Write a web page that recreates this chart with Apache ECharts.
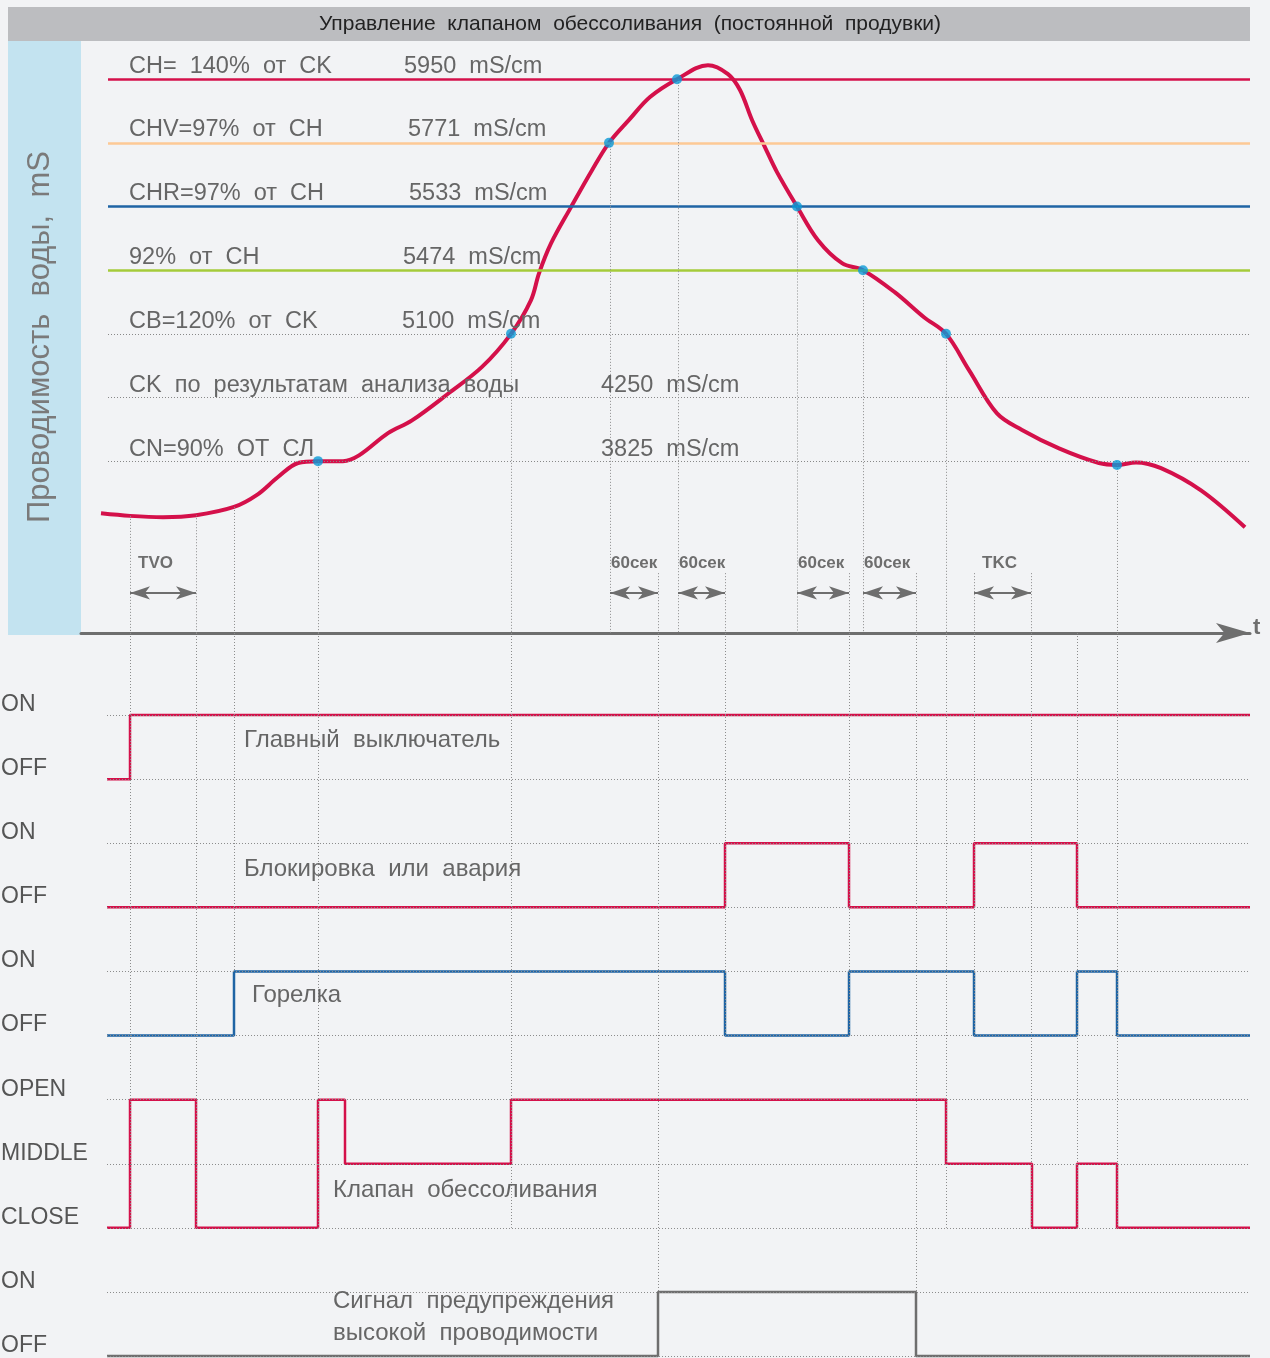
<!DOCTYPE html>
<html>
<head>
<meta charset="utf-8">
<title>Управление клапаном обессоливания</title>
<script src="https://cdn.jsdelivr.net/npm/echarts@6/dist/echarts.min.js"></script>
<style>
html, body { margin: 0; padding: 0; background: #f2f3f5; }
#main { width: 1270px; height: 1358px; }
</style>
</head>
<body>
<div id="main"></div>
<script>
// ---- data ----
var titleText = 'Управление  клапаном  обессоливания  (постоянной  продувки)';
var yName = 'Проводимость  воды,  mS';

// thresholds of the conductivity chart, level 7 = CH ... 1 = CN
var thresholdNames = ['CH=  140%  от  CK', 'CHV=97%  от  CH', 'CHR=97%  от  CH', '92%  от  CH',
  'CB=120%  от  CK', 'CK  по  результатам  анализа  воды', 'CN=90%  ОТ  СЛ'];
var thresholdValues = [5950, 5771, 5533, 5474, 5100, 4250, 3825];
var thresholdLevels = [7, 6, 5, 4, 3, 2, 1];

// conductivity curve, [t, level]
var curve = [
  [20, 0.18], [49, 0.14], [82, 0.12], [115, 0.15], [153, 0.28], [176, 0.47], [197, 0.75],
  [217, 0.97], [237, 1.0], [262, 1.0], [278, 1.09], [307, 1.44], [331, 1.64], [368, 2.07],
  [401, 2.48], [430, 3.0], [450, 3.53], [458, 3.95], [470, 4.42], [490, 4.99], [511, 5.57],
  [528, 6.0], [548, 6.36], [569, 6.72], [596, 7.0], [627, 7.22], [647, 7.08], [659, 6.83],
  [671, 6.36], [684, 5.93], [696, 5.54], [716, 5.0], [737, 4.47], [761, 4.11], [782, 4.0],
  [814, 3.65], [843, 3.26], [865, 3.0], [888, 2.43], [916, 1.75], [941, 1.49], [978, 1.2],
  [1018, 0.97], [1036, 0.94], [1055, 0.98], [1080, 0.89], [1120, 0.54], [1164, -0.04]
];
// switching points on the curve
var switchPoints = [[237, 1], [430, 3], [528, 6], [596, 7], [716, 5], [782, 4], [865, 3], [1036, 0.94]];

// timers
var timerNames = ['TVO', '60сек', '60сек', '60сек', '60сек', 'TKC'];
var timerFrom = [49, 529, 597, 716, 782, 893];
var timerTo = [115, 577, 644, 768, 835, 950];

// vertical guides: t, start level in the top chart (null = none), end row in the signal panel (null = stops at t axis)
var guideX = [49, 115, 153, 237, 430, 529, 577, 597, 644, 716, 768, 782, 835, 865, 893, 950, 996, 1036];
var guideTop = [0.14, 0.15, 0.28, 1, 3, 6, -0.76, 7, -0.76, 5, -0.76, 4, -0.76, 3, -0.76, -0.76, null, 0.94];
var guideEnd = [8, 8, 4, 8, 8, null, 9, null, 5, null, 5, null, 9, 8, 5, 8, 8, 8];

// signal diagrams, [t, state]
var signalNames = ['Главный  выключатель', 'Блокировка  или  авария', 'Горелка', 'Клапан  обессоливания',
  'Сигнал  предупреждения\nвысокой  проводимости'];
var rowLabels = ['ON', 'OFF', 'ON', 'OFF', 'ON', 'OFF', 'OPEN', 'MIDDLE', 'CLOSE', 'ON', 'OFF'];
var mainSwitch = [[26, 0], [49, 1], [1169, 1]];
var blocking = [[26, 0], [644, 1], [768, 0], [893, 1], [996, 0], [1169, 0]];
var burner = [[26, 0], [153, 1], [644, 0], [768, 1], [893, 0], [996, 1], [1036, 0], [1169, 0]];
var valve = [[26, 0], [49, 2], [115, 0], [237, 2], [264, 1], [430, 2], [865, 1], [951, 0], [996, 1], [1036, 0], [1169, 0]];
var warning = [[26, 0], [577, 1], [835, 0], [1169, 0]];

// ---- layout / style ----
var FONT = 'Liberation Sans';
var RED = '#d4104a', BLUE = '#1f64a4', GRAY = '#6e6e6e', TXT = '#666';
var thresholdStyles = [
  { color: RED, width: 2.5, type: 'solid' },
  { color: '#fdc995', width: 2.5, type: 'solid' },
  { color: BLUE, width: 2.5, type: 'solid' },
  { color: '#a5cb3a', width: 2.5, type: 'solid' },
  { color: '#888', width: 1, type: [1, 2] },
  { color: '#888', width: 1, type: [1, 2] },
  { color: '#888', width: 1, type: [1, 2] }
];
var labelLift = [-13, -13, -13, -13, -12, -12, -12];
var valueColumnX = [323, 327, 328, 322, 321, 520, 520];
var signalSeries = [mainSwitch, blocking, burner, valve, warning];
var signalBottomRow = [1, 3, 5, 8, 10];
var signalColors = [RED, RED, BLUE, RED, GRAY];
var signalLabelPos = [[163, 0.39], [163, 2.41], [171, 4.37], [252, 7.41], [252, 9.39]];
var lineStart = 27, lineEnd = 1169;
var LEVEL_MIN = -1.70, ROW_MIN = -1.28;
var guideStyle = { color: '#8c8c8c', width: 1, type: [1, 2] };

function textItem(coord, text, style) {
  return {
    coord: coord, symbolSize: 0,
    label: Object.assign({ show: true, position: 'right', distance: 0, formatter: text,
      fontFamily: FONT, color: TXT }, style)
  };
}

var chartDom = document.getElementById('main');
var myChart = echarts.init(chartDom);
var option;

var thresholdLines = [], thresholdTexts = [];
thresholdLevels.forEach(function (lvl, i) {
  thresholdLines.push([{ coord: [lineStart, lvl], lineStyle: thresholdStyles[i] }, { coord: [lineEnd, lvl] }]);
  thresholdTexts.push(textItem([48, lvl], thresholdNames[i], { fontSize: 23.5, offset: [0, labelLift[i]] }));
  thresholdTexts.push(textItem([valueColumnX[i], lvl], thresholdValues[i] + '  mS/cm', { fontSize: 23.5, offset: [0, labelLift[i]] }));
});

var timerLines = [], timerTexts = [];
timerNames.forEach(function (name, i) {
  timerLines.push([{ coord: [timerFrom[i], -1.07] }, { coord: [timerTo[i], -1.07] }]);
  timerTexts.push(textItem([timerFrom[i] + (name === '60сек' ? 1 : 8), -0.6], name,
    { fontSize: 17, fontWeight: 'bold', color: '#6e6e6e' }));
});

var guidesTop = [], guidesBottom = [];
guideX.forEach(function (x, i) {
  if (guideTop[i] !== null) guidesTop.push([{ coord: [x, guideTop[i]] }, { coord: [x, LEVEL_MIN] }]);
  if (guideEnd[i] !== null) guidesBottom.push([{ coord: [x, ROW_MIN] }, { coord: [x, guideEnd[i]] }]);
});

var rowLines = rowLabels.map(function (l, r) {
  return [{ coord: [26, r] }, { coord: [lineEnd, r] }];
});

var series = [
  {
    name: 'thresholds', type: 'line', xAxisIndex: 0, yAxisIndex: 0, data: [], z: 1,
    markLine: { silent: true, symbol: 'none', label: { show: false }, data: thresholdLines.concat(
      guidesTop.map(function (g) { g[0].lineStyle = guideStyle; return g; })) },
    markPoint: { silent: true, data: thresholdTexts.concat(timerTexts) }
  },
  {
    name: 'timers', type: 'line', xAxisIndex: 0, yAxisIndex: 0, data: [], z: 2,
    markLine: { silent: true, symbol: ['arrow', 'arrow'], symbolSize: [10, 20], label: { show: false },
      lineStyle: { color: '#6e6e6e', width: 2, type: 'solid' }, data: timerLines }
  },
  {
    name: 'conductivity', type: 'line', xAxisIndex: 0, yAxisIndex: 0, data: curve, smooth: 0.35,
    showSymbol: false, lineStyle: { color: RED, width: 4 }, z: 4
  },
  {
    name: 'points', type: 'scatter', xAxisIndex: 0, yAxisIndex: 0, data: switchPoints,
    symbolSize: 10, itemStyle: { color: '#0a9ad7' }, z: 5
  },
  {
    name: 'grid', type: 'line', xAxisIndex: 1, yAxisIndex: 1, data: [], z: 1,
    markLine: { silent: true, symbol: 'none', label: { show: false }, lineStyle: guideStyle,
      data: rowLines.concat(guidesBottom) }
  }
];

signalSeries.forEach(function (sig, i) {
  series.push({
    name: signalNames[i], type: 'line', step: 'end', xAxisIndex: 1, yAxisIndex: 1, showSymbol: false,
    data: sig.map(function (p) { return [p[0], signalBottomRow[i] - p[1]]; }),
    lineStyle: { color: signalColors[i], width: 2.5 }, z: 3,
    markPoint: { silent: true, data: [textItem(signalLabelPos[i], signalNames[i], { fontSize: 24, lineHeight: 32 })] }
  });
});

option = {
  backgroundColor: '#f2f3f5',
  animation: false,
  textStyle: { fontFamily: FONT },
  graphic: [
    { type: 'rect', z: -10, shape: { x: 8, y: 7, width: 1242, height: 34 }, style: { fill: '#bcbdc0' } },
    { type: 'rect', z: -10, shape: { x: 8, y: 41, width: 73, height: 594 }, style: { fill: '#c3e3f0' } },
    { type: 'text', z: 10, x: 630, y: 24, style: { text: titleText, fill: '#222', font: '21px "Liberation Sans"',
      textAlign: 'center', textVerticalAlign: 'middle' } }
  ],
  grid: [
    { left: 81, right: 20, top: 41, height: 592, outerBoundsMode: 'none' },
    { left: 81, right: 20, top: 633, bottom: 0, outerBoundsMode: 'none' }
  ],
  xAxis: [
    {
      type: 'value', gridIndex: 0, min: 0, max: 1169, splitLine: { show: false }, axisTick: { show: false },
      axisLabel: { show: false },
      axisLine: { show: true, onZero: false, symbol: ['none', 'arrow'], symbolSize: [15, 34], symbolOffset: [0, 0],
        lineStyle: { color: GRAY, width: 3 } },
      name: 't', nameLocation: 'end', nameGap: 3,
      nameTextStyle: { fontSize: 22, fontWeight: 'bold', color: GRAY, verticalAlign: 'bottom', padding: [0, 0, -6, 0] }
    },
    { type: 'value', gridIndex: 1, min: 0, max: 1169, show: false }
  ],
  yAxis: [
    {
      type: 'value', gridIndex: 0, min: LEVEL_MIN, max: 7.6, splitLine: { show: false },
      axisLine: { show: false }, axisTick: { show: false }, axisLabel: { show: false },
      name: yName, nameLocation: 'middle', nameRotate: 90, nameGap: 25,
      nameTextStyle: { fontSize: 31, color: '#7a7a7a' }
    },
    {
      type: 'value', gridIndex: 1, min: ROW_MIN, max: 10.03, inverse: true, splitLine: { show: false },
      axisLine: { show: false }, axisTick: { show: false },
      axisLabel: {
        show: true, customValues: rowLabels.map(function (l, r) { return r; }),
        formatter: function (v) { return rowLabels[Math.round(v)]; },
        align: 'left', margin: 80, verticalAlign: 'bottom', lineHeight: 21, fontSize: 23, color: '#555'
      }
    }
  ],
  series: series
};

option && myChart.setOption(option);
</script>
</body>
</html>
